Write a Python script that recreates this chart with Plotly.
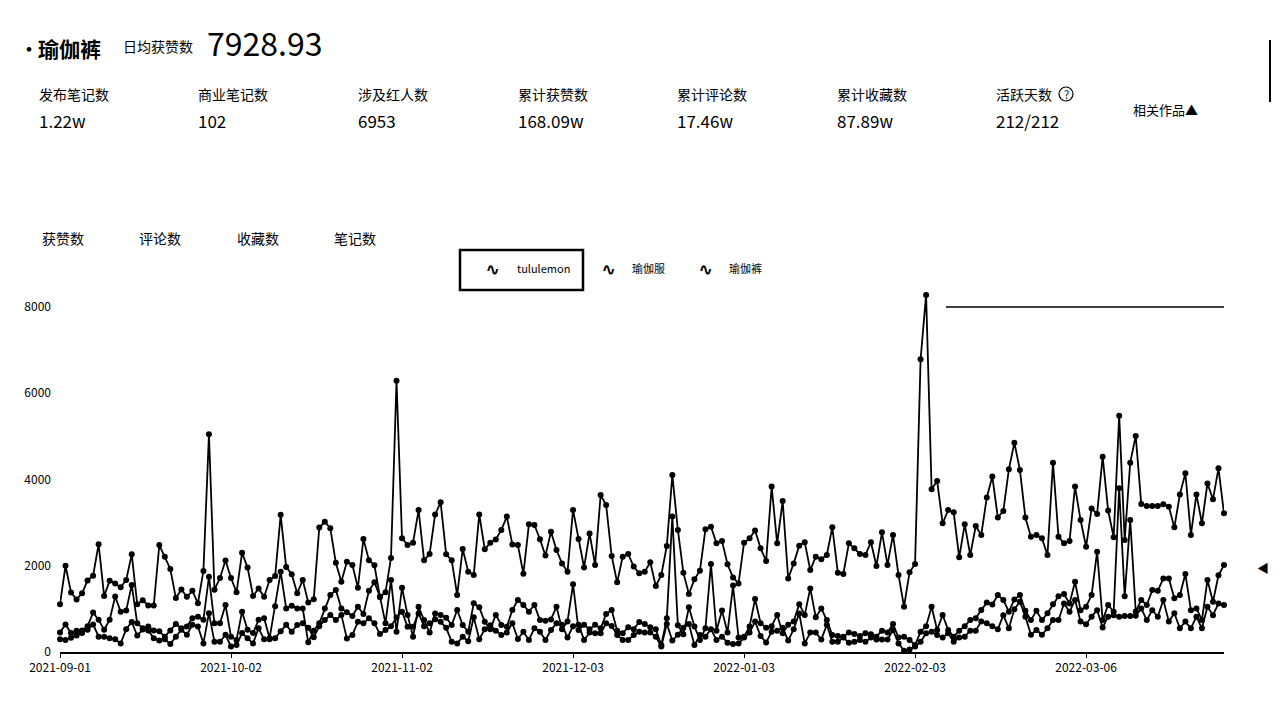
import plotly.graph_objects as go
import pandas as pd

start_date = "2021-09-01"
n_days = 212

tululemon = [1110,2000,1380,1220,1360,1660,1770,2500,1300,1650,1590,1500,1670,2265,1110,1200,1080,1080,2480,2210,
             1925,1250,1450,1280,1420,1130,1880,5050,1445,1715,2120,1715,1385,2300,1960,1300,1475,1280,1670,1760,
             3180,1970,1805,1360,1670,1150,1225,2885,3020,2870,2070,1630,2090,2020,1490,2620,2130,2010,1270,1385,
             2180,6290,2640,2480,2535,3290,2130,2270,3190,3470,2265,2130,1320,2390,1860,1785,3190,2380,2535,2610,
             2830,3140,2495,2480,1815,2960,2945,2615,2235,2790,2365,2055,1860,3295,2620,1960,2750,2020,3640,3410,
             2225,1615,2210,2270,1980,1825,1860,2080,1530,1785,2460,4105,2830,1840,1345,1685,1885,2845,2905,2520,
             2575,2035,1730,1590,2535,2635,2815,2405,2110,3835,2520,3500,1705,2055,2465,2545,1900,2210,2150,2250,
             2890,1840,1810,2520,2405,2270,2250,2545,1995,2775,2020,2715,1785,1050,1850,2040,6790,8280,3775,3965,
             2985,3290,3240,2195,2960,2250,2920,2715,3585,4070,3120,3270,4235,4855,4220,3120,2675,2715,2635,2250,
             4390,2675,2520,2575,3835,3060,2440,3330,3200,4530,3280,2660,5480,2600,4390,5010,3430,3385,3385,3385,
             3425,3370,2890,3655,4145,2715,3655,2985,3910,3540,4260,3215]

yujiafu = [455,640,440,490,500,600,915,745,515,745,1285,935,960,1555,665,550,590,500,480,355,
           500,650,550,590,785,820,745,1745,665,665,1090,355,280,935,515,440,745,785,320,1060,
           1860,1010,1075,1010,1010,225,495,665,1010,1320,1440,1010,920,835,1050,880,1420,1615,1285,665,
           1670,470,1490,860,355,1050,740,450,895,860,795,625,975,625,470,1130,1035,700,525,860,
           625,585,975,1205,1090,935,1090,740,725,755,1050,530,710,1570,510,630,530,630,550,880,
           975,495,435,575,530,695,650,575,530,160,780,3140,620,410,1035,590,280,550,2040,495,
           960,450,1540,335,355,590,1230,665,565,600,860,435,630,710,1110,860,1475,805,1010,740,
           395,370,355,450,420,370,435,410,355,495,450,650,335,355,280,160,470,600,1050,510,
           860,510,355,495,600,740,780,975,1145,1100,1320,1205,935,1220,1320,955,740,955,740,900,
           1110,1295,1345,1125,1630,970,1050,1320,2325,740,1090,935,3795,1290,3060,940,1205,1090,1435,1420,
           1705,1705,1245,1320,1810,970,1010,740,1670,1165,1780,2015]

yujiaku = [295,280,330,380,440,515,640,355,355,320,295,200,530,695,380,520,500,320,265,295,
           185,355,515,400,630,590,200,900,235,235,400,125,160,440,320,200,550,295,295,320,
           480,630,470,625,665,560,340,600,740,860,740,860,315,395,700,665,780,665,415,510,
           600,800,935,585,585,895,600,665,760,700,560,240,200,355,250,805,295,525,620,495,
           395,450,665,300,470,280,550,470,280,510,665,630,335,600,630,280,450,435,435,665,
           605,395,280,280,395,470,450,450,355,130,650,265,400,560,650,160,395,355,530,280,
           355,215,185,200,335,450,705,370,220,470,495,560,265,530,895,200,450,450,290,630,
           235,235,335,215,235,280,235,335,290,290,290,510,200,30,60,130,235,435,470,395,
           335,435,235,335,355,495,495,710,665,600,525,855,550,990,1165,820,400,510,400,550,
           740,740,1125,935,1205,705,645,820,970,570,820,855,820,835,835,840,1010,740,970,820,
           1205,705,900,550,705,550,820,550,1050,855,1125,1090]

series_names = ["tululemon", "瑜伽服", "瑜伽裤"]
x_tick_labels = ["2021-09-01", "2021-10-02", "2021-11-02", "2021-12-03", "2022-01-03", "2022-02-03", "2022-03-06"]
y_ticks = [0, 2000, 4000, 6000, 8000]

metric_labels = ["发布笔记数", "商业笔记数", "涉及红人数", "累计获赞数", "累计评论数", "累计收藏数", "活跃天数"]
metric_values = ["1.22w", "102", "6953", "168.09w", "17.46w", "87.89w", "212/212"]
tabs = ["获赞数", "评论数", "收藏数", "笔记数"]

dates = pd.date_range(start_date, periods=n_days, freq="D")

FONT = "Noto Sans CJK SC, Noto Sans, sans-serif"
OFF = 8  # page body margin
W, H = 1280 - 2 * OFF, 719 - 2 * OFF
# plot area in page pixels
L, R, T, B = 60, 1224, 290, 652

def px(x):
    return (x - L) / (R - L)

def py(y):
    return (B - y) / (B - T)

fig = go.Figure()
for name, vals in zip(series_names, [tululemon, yujiafu, yujiaku]):
    fig.add_trace(go.Scatter(
        x=dates, y=vals, name=name, mode="lines+markers",
        line=dict(color="#000000", width=1.8),
        marker=dict(color="#000000", size=6),
        cliponaxis=False, showlegend=False))

ymax = 8000 * (B - T) / (B - 307)

fig.update_layout(
    width=W, height=H,
    margin=dict(l=L - OFF, r=(W + OFF) - R, t=T - OFF, b=(H + OFF) - B, pad=0),
    paper_bgcolor="white", plot_bgcolor="white",
    font=dict(family=FONT, color="#000000", size=11),
    xaxis=dict(range=[dates[0], dates[-1]], showgrid=False, zeroline=False,
               showline=True, linecolor="#000000", linewidth=1.5,
               tickmode="array", tickvals=pd.to_datetime(x_tick_labels), ticktext=x_tick_labels,
               ticks="outside", ticklen=4, tickcolor="#000000",
               tickfont=dict(size=12, family=FONT)),
    yaxis=dict(range=[0, ymax], showgrid=False, zeroline=False, showline=False,
               tickmode="array", tickvals=y_ticks, ticktext=[str(v) for v in y_ticks],
               ticks="", ticklabelstandoff=8, tickfont=dict(size=12, family=FONT)),
)

ann = []
def text(x, y, s, size, bold=False, anchor="left", yanchor="middle"):
    ann.append(dict(xref="paper", yref="paper", x=px(x), y=py(y), text=("<b>%s</b>" % s) if bold else s,
                    showarrow=False, xanchor=anchor, yanchor=yanchor,
                    font=dict(size=size, family=FONT, color="#000000")))

text(16, 47, "•", 22)
text(36, 48, "瑜伽裤", 21, bold=True)
text(121, 46, "日均获赞数", 14)
text(205, 42, "7928.93", 32)

metric_x = [38, 197, 357, 517, 676, 836, 995]
for mx, lab, val in zip(metric_x, metric_labels, metric_values):
    text(mx - 1, 94, lab, 14)
    text(mx - 1, 121, val, 17)
text(1131, 109, "相关作品▲", 13)
text(1066, 94, "?", 11, anchor="center")

for tx, lab in zip([40, 137, 235, 332], tabs):
    text(tx, 238, lab, 14)

legend_items = [(484, 515, series_names[0]), (600, 630, series_names[1]), (697, 727, series_names[2])]
for ix, tx, name in legend_items:
    text(ix, 268, "<b>∿</b>", 16)
    text(tx, 268, name, 11)

text(1271, 567, "◀", 12, anchor="right")

fig.update_layout(annotations=ann)

shapes = [
    dict(type="rect", xref="paper", yref="paper", x0=px(460), x1=px(583), y0=py(250), y1=py(290),
         line=dict(color="#000000", width=2.5), fillcolor="rgba(0,0,0,0)"),
    dict(type="line", xref="paper", yref="paper", x0=px(946), x1=px(1224), y0=py(307), y1=py(307),
         line=dict(color="#000000", width=1.5)),
    dict(type="circle", xref="paper", yref="paper", x0=px(1059), x1=px(1073), y0=py(87), y1=py(101),
         line=dict(color="#000000", width=1.2)),
    dict(type="line", xref="paper", yref="paper", x0=px(1270), x1=px(1270), y0=py(40), y1=py(102),
         line=dict(color="#000000", width=2)),
]
fig.update_layout(shapes=shapes)

fig.write_html("out.html")
